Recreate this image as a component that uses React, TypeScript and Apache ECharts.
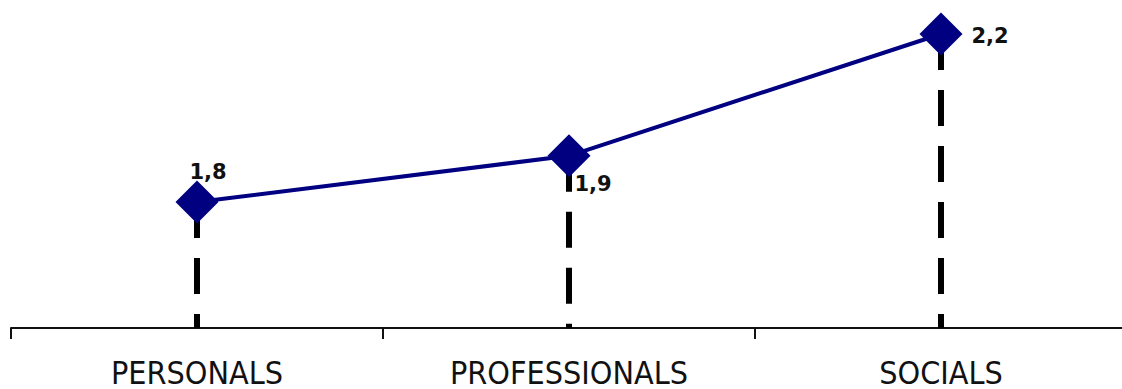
import React, { useEffect, useRef } from "react";
import * as echarts from "echarts";

const categories = ["PERSONALS", "PROFESSIONALS", "SOCIALS"];
const values = [1.8, 1.91, 2.2];
const labelOffsets: [number, number][] = [[11, -30], [24, 28], [49, 2]];

export default function App() {
  const ref = useRef<HTMLDivElement>(null);
  useEffect(() => {
    document.body.style.margin = "0";
    document.body.style.overflow = "hidden";
    const chart = echarts.init(ref.current!, null, { renderer: "svg" });
    const yMin = 1.5;
    chart.setOption({
      animation: false,
      backgroundColor: "#ffffff",
      grid: { left: 11, width: 1116, top: 13, bottom: 60, containLabel: false },
      xAxis: {
        type: "category",
        data: categories,
        boundaryGap: true,
        axisLine: { show: true, lineStyle: { color: "#111", width: 2 } },
        axisTick: { show: true, alignWithLabel: false, length: 11, lineStyle: { color: "#111", width: 2 } },
        axisLabel: {
          color: "#111",
          fontFamily: "'DejaVu Sans Condensed', 'DejaVu Sans', sans-serif",
          fontSize: 32,
          margin: 29,
        },
        splitLine: { show: false },
      },
      yAxis: {
        type: "value",
        min: yMin,
        max: 2.25,
        show: false,
        splitLine: { show: false },
      },
      series: [
        {
          type: "line",
          data: values,
          z: 1,
          silent: true,
          symbol: "none",
          lineStyle: { width: 0, opacity: 0 },
          markLine: {
            silent: true,
            symbol: ["none", "none"],
            label: { show: false },
            lineStyle: { color: "#000", width: 6, opacity: 1, type: [36, 20] },
            data: values.map((v, i) => [
              { coord: [i, v] },
              { coord: [i, yMin] },
            ]),
          },
        },
        {
          type: "line",
          z: 5,
          data: values.map((v, i) => ({
            value: v,
            label: { offset: labelOffsets[i] },
          })),
          symbol: "diamond",
          symbolSize: 43,
          itemStyle: { color: "#000080" },
          lineStyle: { color: "#000080", width: 4 },
          label: {
            show: true,
            position: "inside",
            color: "#111",
            fontFamily: "'DejaVu Sans', sans-serif",
            fontWeight: "bold",
            fontSize: 21,
            formatter: (p: any) => p.value.toFixed(1).replace(".", ","),
          },
        },
      ],
    });
    return () => chart.dispose();
  }, []);
  return (
    <div
      ref={ref}
      style={{ position: "fixed", left: 0, top: 0, width: 1130, height: 389 }}
    />
  );
}
